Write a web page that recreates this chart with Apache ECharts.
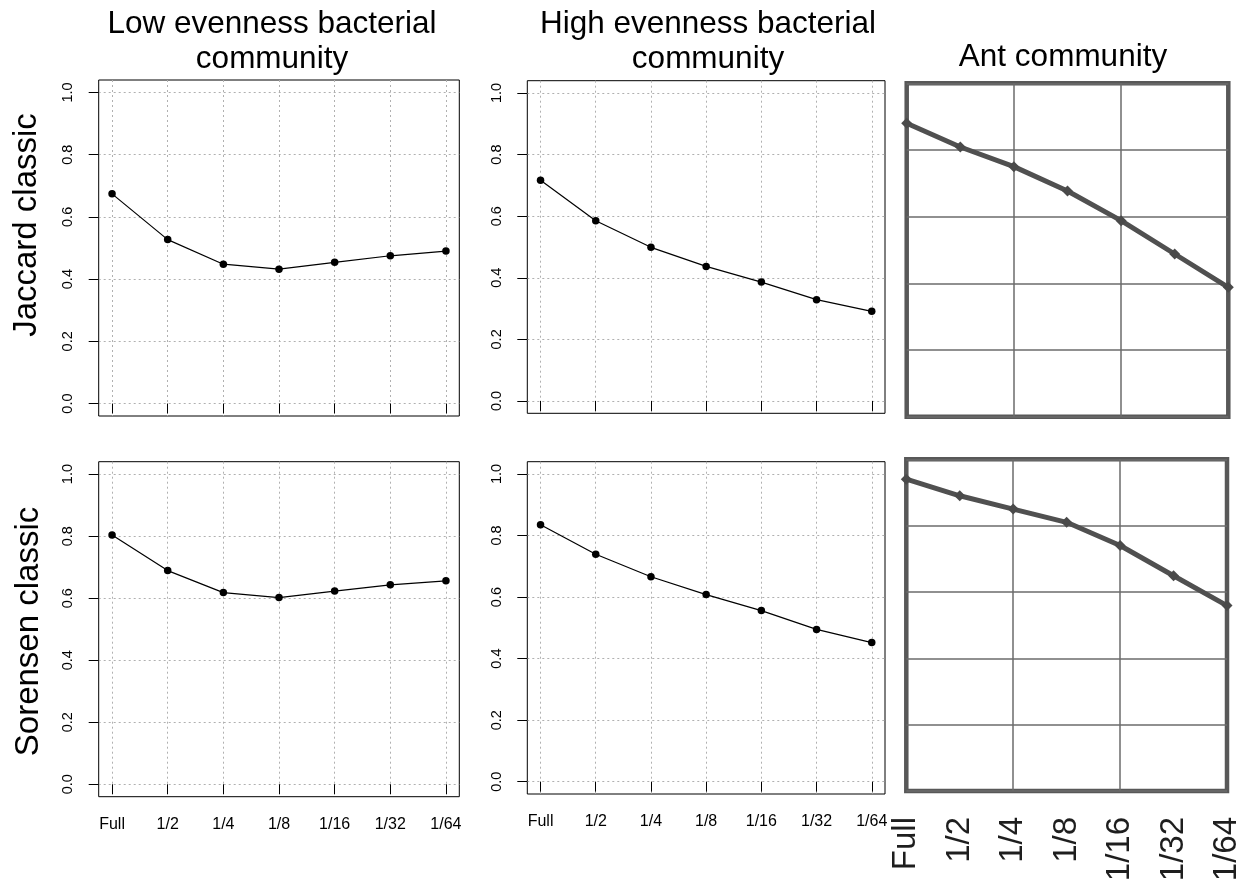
<!DOCTYPE html>
<html><head><meta charset="utf-8">
<script src="https://cdn.jsdelivr.net/npm/echarts@6/dist/echarts.min.js"></script>
<style>html,body{margin:0;padding:0;background:#fff}#c{width:1249px;height:892px}</style>
</head><body><div id="c"></div>
<script>
// ---------- data ----------
const categories = ['Full', '1/2', '1/4', '1/8', '1/16', '1/32', '1/64'];
const yTicks = [0, 0.2, 0.4, 0.6, 0.8, 1.0];
const colTitles = ['Low evenness bacterial\ncommunity', 'High evenness bacterial\ncommunity', 'Ant community'];
const rowTitles = ['Jaccard classic', 'Sorensen classic'];

const lowJaccard   = [0.674, 0.527, 0.448, 0.432, 0.454, 0.475, 0.490];
const highJaccard  = [0.717, 0.585, 0.499, 0.437, 0.386, 0.329, 0.291];
const antJaccard   = [0.880, 0.809, 0.750, 0.677, 0.588, 0.488, 0.388];
const lowSorensen  = [0.804, 0.689, 0.618, 0.602, 0.623, 0.643, 0.656];
const highSorensen = [0.835, 0.739, 0.666, 0.608, 0.556, 0.495, 0.452];
const antSorensen  = [0.940, 0.890, 0.850, 0.810, 0.740, 0.649, 0.559];

// ---------- build ----------
const FONT = '"Liberation Sans", Arial, Helvetica, sans-serif';
const positions = categories.map((c, i) => i + 1);
const antGridCats = [3, 5];
const catFmt = v => categories[Math.round(v) - 1] || '';

const rPanels = [
  { data: lowJaccard,   box: { left: 98.7,  top: 80,    width: 360.6, height: 336 },   bottom: false },
  { data: highJaccard,  box: { left: 527.3, top: 80.7,  width: 357.7, height: 332.6 }, bottom: false },
  { data: lowSorensen,  box: { left: 98.7,  top: 461.7, width: 360.6, height: 335 },   bottom: true },
  { data: highSorensen, box: { left: 527.3, top: 461.7, width: 357.7, height: 332.3 }, bottom: true }
];
const antPanels = [
  { data: antJaccard,  box: { left: 906.7, top: 83.3,  width: 321.6, height: 333.4 }, bottom: false },
  { data: antSorensen, box: { left: 906.3, top: 459.3, width: 320.7, height: 331.7 }, bottom: true }
];

const grid = [], xAxis = [], yAxis = [], series = [];
const dotted = { show: true, lineStyle: { color: '#b0b0b0', width: 1, type: [2, 3] } };

rPanels.forEach(p => {
  const k = grid.length;
  grid.push(Object.assign({ show: true, borderColor: '#000', borderWidth: 1, backgroundColor: 'transparent',
    containLabel: false, outerBoundsMode: 'none' }, p.box));
  xAxis.push({
    type: 'value', gridIndex: k, min: 0.76, max: 7.24,
    axisLine: { show: false },
    axisTick: { show: true, inside: false, length: 10, customValues: positions, lineStyle: { color: '#000', width: 1 } },
    axisLabel: { show: p.bottom, customValues: positions, formatter: catFmt, fontSize: 16, margin: 20,
      color: '#000', fontFamily: FONT },
    splitLine: dotted
  });
  yAxis.push({
    type: 'value', gridIndex: k, min: -0.04, max: 1.04,
    axisLine: { show: false },
    axisTick: { show: true, inside: false, length: 10, customValues: yTicks, lineStyle: { color: '#000', width: 1 } },
    axisLabel: { show: true, customValues: yTicks, formatter: v => v.toFixed(1), rotate: 90, fontSize: 14.5,
      margin: 23, color: '#000', fontFamily: FONT },
    splitLine: dotted
  });
  series.push({
    type: 'line', xAxisIndex: k, yAxisIndex: k, silent: true, animation: false,
    data: p.data.map((v, i) => [positions[i], v]),
    symbol: 'circle', symbolSize: 7.5, showAllSymbol: true,
    lineStyle: { color: '#000', width: 1.2 }, itemStyle: { color: '#000' }
  });
});

antPanels.forEach(p => {
  const k = grid.length;
  grid.push(Object.assign({ show: true, borderColor: '#585858', borderWidth: 4.5, backgroundColor: 'transparent',
    containLabel: false, outerBoundsMode: 'none' }, p.box));
  xAxis.push({
    type: 'value', gridIndex: k, min: 1, max: 7,
    axisLine: { show: false },
    axisTick: { show: false, customValues: antGridCats },
    axisLabel: { show: p.bottom, customValues: positions, formatter: catFmt, rotate: 90, fontSize: 33,
      margin: 26, color: '#1e1e1e', fontFamily: FONT },
    splitLine: { show: true, lineStyle: { color: '#6b6b6b', width: 1.5 } }
  });
  yAxis.push({
    type: 'value', gridIndex: k, min: 0, max: 1, interval: 0.2,
    axisLine: { show: false }, axisTick: { show: false }, axisLabel: { show: false },
    splitLine: { show: true, lineStyle: { color: '#6b6b6b', width: 1.5 } }
  });
  series.push({
    type: 'line', xAxisIndex: k, yAxisIndex: k, silent: true, animation: false, clip: false,
    data: p.data.map((v, i) => [positions[i], v]),
    symbol: 'diamond', symbolSize: 11, showAllSymbol: true,
    lineStyle: { color: '#505050', width: 5 }, itemStyle: { color: '#4a4a4a' }
  });
});

const titleStyle = { fontSize: 31.5, lineHeight: 35, fontWeight: 'normal', color: '#000', fontFamily: FONT };
const title = [
  { text: colTitles[0], left: 272,  top: 7,  padding: 0, textAlign: 'center', textVerticalAlign: 'top', textStyle: titleStyle },
  { text: colTitles[1], left: 708,  top: 7,  padding: 0, textAlign: 'center', textVerticalAlign: 'top', textStyle: titleStyle },
  { text: colTitles[2], left: 1063, top: 40, padding: 0, textAlign: 'center', textVerticalAlign: 'top', textStyle: titleStyle }
];

const graphic = [
  { type: 'text', x: 27, y: 225, rotation: Math.PI / 2, silent: true,
    style: { text: rowTitles[0], fontSize: 33, fontFamily: FONT, fill: '#000', align: 'center', verticalAlign: 'middle' } },
  { type: 'text', x: 28.5, y: 631.5, rotation: Math.PI / 2, silent: true,
    style: { text: rowTitles[1], fontSize: 33, fontFamily: FONT, fill: '#000', align: 'center', verticalAlign: 'middle' } }
];

const chart = echarts.init(document.getElementById('c'), null, { renderer: 'canvas' });
chart.setOption({ animation: false, backgroundColor: '#fff', title, grid, xAxis, yAxis, series, graphic });
</script>
</body></html>
